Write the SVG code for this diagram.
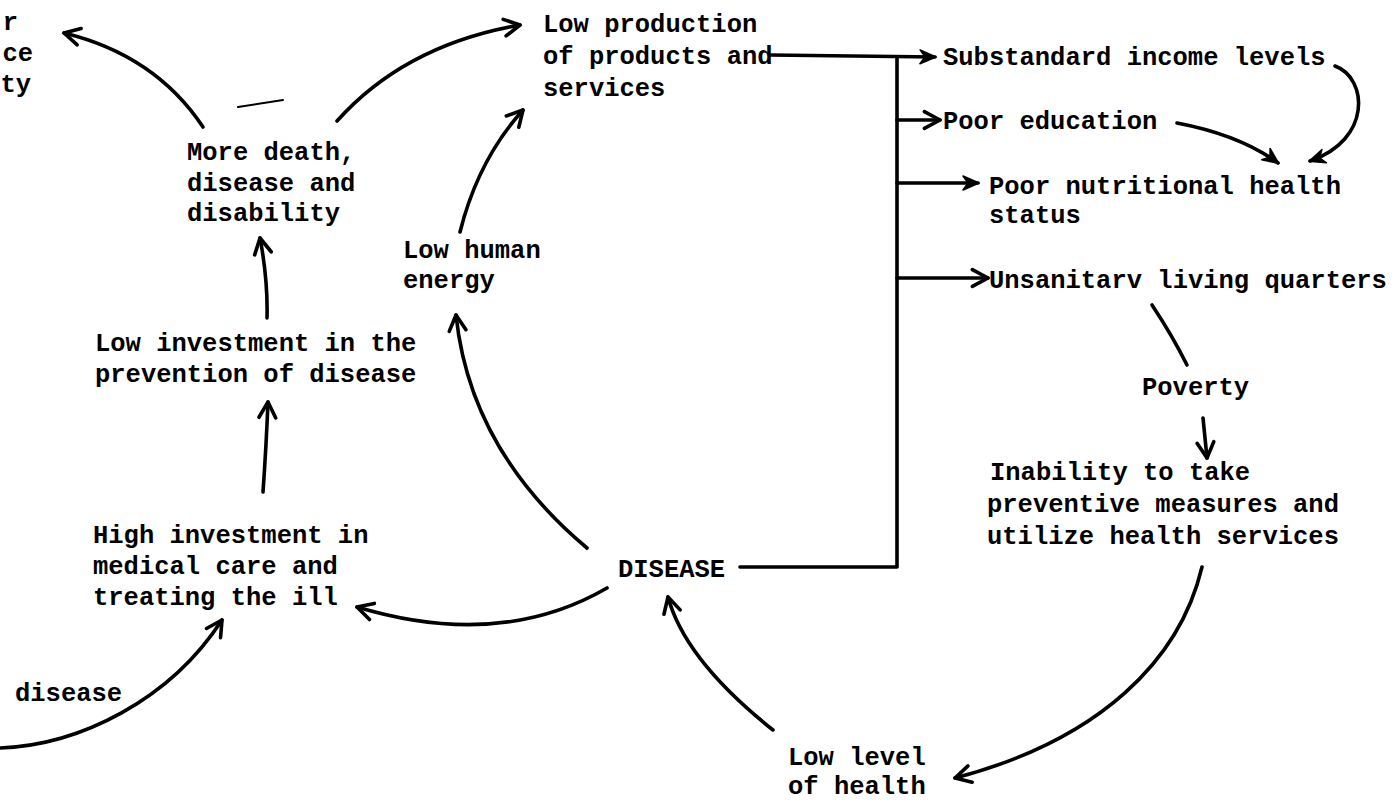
<svg xmlns="http://www.w3.org/2000/svg" width="1395" height="804" viewBox="0 0 1395 804">
<style>
text{font-family:"Liberation Mono","Courier New",monospace;font-size:25.5px;font-weight:bold;fill:#000}
.c{fill:none;stroke:#000;stroke-width:3.6;stroke-linecap:round;stroke-linejoin:round}
.v{marker-end:url(#v)}
.f{marker-end:url(#f)}
</style>
<defs>
<marker id="v" viewBox="0 0 20 20" refX="18" refY="10" markerWidth="24" markerHeight="24" markerUnits="userSpaceOnUse" orient="auto">
<path d="M5,3 L18,10 L5,17" fill="none" stroke="#000" stroke-width="3" stroke-linecap="round" stroke-linejoin="round"/>
</marker>
<marker id="f" viewBox="0 0 20 20" refX="18" refY="10" markerWidth="20" markerHeight="20" markerUnits="userSpaceOnUse" orient="auto">
<path d="M3,3 L19,10 L3,17 L8,10 Z" fill="#000" stroke="#000" stroke-width="1.5" stroke-linejoin="round"/>
</marker>
</defs>
<rect width="1395" height="804" fill="#fff"/>

<g id="connectors">
<path class="c v" d="M203,127 Q155,55 64,33"/>
<path class="c v" d="M337,121 Q405,45 520,25"/>
<path class="c v" d="M460,232 Q478,160 523,110"/>
<path class="c f" d="M770,55 L935,57"/>
<path class="c" d="M897,57 L897,567 L740,567"/>
<path class="c v" d="M897,120 L940,120"/>
<path class="c f" d="M897,183 L978,183"/>
<path class="c v" d="M897,278 L988,278"/>
<path class="c f" d="M1335,66 C1368,78 1372,140 1310,161"/>
<path class="c f" d="M1177,123 Q1240,135 1278,163"/>
<path class="c" d="M1152,305 Q1172,335 1187,365"/>
<path class="c v" d="M1203,418 L1207,458"/>
<path class="c v" d="M1202,567 C1180,660 1100,740 955,778"/>
<path class="c v" d="M773,730 Q685,660 668,597"/>
<path class="c v" d="M587,548 Q470,450 456,315"/>
<path class="c v" d="M607,588 Q500,650 357,607"/>
<path class="c v" d="M0,748 C80,745 170,700 222,620"/>
<path class="c v" d="M267,318 Q268,280 260,238"/>
<path class="c v" d="M263,492 Q266,450 268,402"/>
<path class="c" style="stroke-width:2" d="M238,107 L283,100"/>
</g>

<g id="n-society">
<text x="18" y="30" text-anchor="end">r</text>
<text x="33" y="61" text-anchor="end">ce</text>
<text x="31" y="92" text-anchor="end">ty</text>
</g>
<g id="n-moredeath">
<text x="187" y="160">More death,</text>
<text x="187" y="191">disease and</text>
<text x="187" y="221">disability</text>
</g>
<g id="n-lowprod">
<text x="543" y="32">Low production</text>
<text x="543" y="64">of products and</text>
<text x="543" y="96">services</text>
</g>
<g id="n-energy">
<text x="403" y="258">Low human</text>
<text x="403" y="288">energy</text>
</g>
<g id="n-lowinv">
<text x="95" y="351">Low investment in the</text>
<text x="95" y="382">prevention of disease</text>
</g>
<g id="n-highinv">
<text x="93" y="543">High investment in</text>
<text x="93" y="574">medical care and</text>
<text x="93" y="605">treating the ill</text>
</g>
<g id="n-disease-left">
<text x="15" y="701">disease</text>
</g>
<g id="n-disease">
<text x="618" y="577">DISEASE</text>
</g>
<g id="n-lowlevel">
<text x="788" y="765">Low level</text>
<text x="788" y="794">of health</text>
</g>
<g id="n-income">
<text x="943" y="65">Substandard income levels</text>
</g>
<g id="n-education">
<text x="943" y="129">Poor education</text>
</g>
<g id="n-nutrition">
<text x="989" y="194">Poor nutritional health</text>
<text x="989" y="223">status</text>
</g>
<g id="n-unsanitary">
<text x="989" y="288">Unsanitarv living quarters</text>
</g>
<g id="n-poverty">
<text x="1142" y="395">Poverty</text>
</g>
<g id="n-inability">
<text x="990" y="480">Inability to take</text>
<text x="987" y="512">preventive measures and</text>
<text x="987" y="544">utilize health services</text>
</g>
</svg>
